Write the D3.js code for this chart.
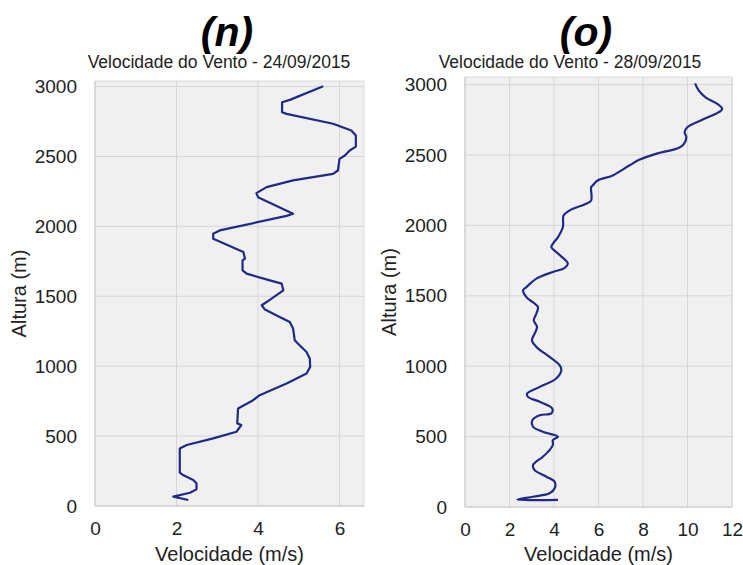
<!DOCTYPE html>
<html><head><meta charset="utf-8">
<script src="https://cdn.jsdelivr.net/npm/d3@7"></script>
<style>body{margin:0;background:#fff}svg{display:block}text{font-family:"Liberation Sans",Arial,sans-serif}</style>
</head><body><svg id="c" width="743" height="565"></svg>
<script>
// Panel (n) 24/09/2015
const nAltura = [43,67,95,119,162,186,221,238,412,436,484,531,579,591,698,757,793,876,948,995,1055,1102,1150,1186,1269,1316,1352,1405,1436,1459,1543,1591,1614,1662,1686,1757,1769,1817,1912,1948,1971,2075,2091,2209,2238,2281,2329,2376,2400,2483,2507,2543,2571,2650,2686,2734,2805,2817,2888,2905,3002];
const nVel    = [2.29,1.92,2.33,2.49,2.49,2.41,2.16,2.08,2.08,2.25,2.90,3.47,3.59,3.49,3.51,3.88,4.04,4.70,5.19,5.28,5.27,5.19,5.02,4.90,4.86,4.78,4.53,4.17,4.09,4.21,4.62,4.58,4.29,3.72,3.62,3.62,3.68,3.64,2.90,2.90,3.06,4.70,4.86,4.00,3.96,4.21,4.86,5.84,5.96,6.00,6.13,6.25,6.40,6.40,6.29,5.84,4.70,4.59,4.59,4.78,5.60];
// Panel (o) 28/09/2015
const oAltura = [50,52,73,97,133,179,215,262,298,357,404,440,475,499,534,570,617,652,665,700,747,782,806,853,913,972,1007,1066,1137,1184,1232,1279,1326,1374,1421,1445,1491,1539,1562,1622,1669,1697,1728,1752,1811,1846,1870,1917,1988,2071,2106,2154,2177,2272,2284,2319,2355,2425,2466,2508,2551,2579,2626,2662,2697,2750,2804,2827,2863,2910,2957,3009];
const oVel    = [4.18,2.35,3.06,3.80,4.03,4.03,3.66,3.13,3.06,3.50,3.80,3.95,3.95,4.18,3.50,3.06,3.03,3.36,3.88,3.92,3.36,2.83,2.79,3.36,4.10,4.33,4.25,3.80,3.21,3.01,3.13,3.24,3.09,3.21,3.28,3.13,2.76,2.61,2.76,3.21,3.95,4.47,4.62,4.52,4.10,3.88,3.95,4.18,4.40,4.43,4.70,5.44,5.67,5.67,5.74,5.96,6.64,7.38,7.83,8.58,9.62,9.84,9.95,9.87,9.99,10.66,11.41,11.56,11.34,10.81,10.51,10.34];

const yTicks = [0,500,1000,1500,2000,2500,3000];
const nXTicks = [0,2,4,6];
const oXTicks = [0,2,4,6,8,10,12];

const svg = d3.select("#c");

function panel(cfg){
  const {x0,x1,y0,y1,xMax,yMax,xTicks,alt,vel,label,title,labelX,titleX,curve} = cfg;
  const x = d3.scaleLinear().domain([0,xMax]).range([x0,x1]);
  const y = d3.scaleLinear().domain([0,yMax]).range([y1,y0]);
  const g = svg.append("g");
  g.append("rect").attr("x",x0).attr("y",y0).attr("width",x1-x0).attr("height",y1-y0)
    .attr("fill","#f0f0f0").attr("stroke","#dcdcdc");
  // grid
  g.append("g").selectAll("line").data(xTicks).join("line")
    .attr("x1",d=>x(d)).attr("x2",d=>x(d)).attr("y1",y0).attr("y2",y1)
    .attr("stroke",d=>d===0?"#c8c8c8":"#d6d6d6").attr("stroke-width",1);
  g.append("g").selectAll("line").data(yTicks).join("line")
    .attr("x1",x0).attr("x2",x1).attr("y1",d=>y(d)).attr("y2",d=>y(d))
    .attr("stroke",d=>d===0?"#c8c8c8":"#d6d6d6").attr("stroke-width",1);
  // axes via d3
  const ax = g.append("g").attr("transform",`translate(0,${y1})`)
    .call(d3.axisBottom(x).tickValues(xTicks).tickSize(0).tickPadding(16).tickFormat(d3.format("d")));
  ax.select(".domain").remove();
  ax.selectAll("text").attr("font-size",19).attr("fill","#222").attr("font-family","Liberation Sans, Arial, sans-serif");
  const ay = g.append("g").attr("transform",`translate(${x0},0)`)
    .call(d3.axisLeft(y).tickValues(yTicks).tickSize(0).tickPadding(18).tickFormat(d3.format("d")));
  ay.select(".domain").remove();
  ay.selectAll("text").attr("font-size",19).attr("fill","#222").attr("font-family","Liberation Sans, Arial, sans-serif");
  // line
  const pts = alt.map((a,i)=>[vel[i],a]);
  g.append("path").datum(pts)
    .attr("fill","none").attr("stroke","#1f2a86").attr("stroke-width",2.2).attr("stroke-linejoin","round")
    .attr("d",d3.line().x(d=>x(d[0])).y(d=>y(d[1])).curve(curve));
  // texts
  g.append("text").attr("x",(x0+x1)/2).attr("y",561).attr("text-anchor","middle")
    .attr("font-size",20).attr("fill","#222").text("Velocidade (m/s)");
  g.append("text").attr("transform",`translate(${x0-69},${(y0+y1)/2}) rotate(-90)`)
    .attr("text-anchor","middle").attr("font-size",20).attr("fill","#222").text("Altura (m)");
  g.append("text").attr("x",titleX).attr("y",68).attr("text-anchor","middle")
    .attr("font-size",17.5).attr("fill","#222").text(title);
  g.append("text").attr("x",labelX).attr("y",46).attr("text-anchor","middle")
    .attr("font-family","DejaVu Sans, Verdana, sans-serif").attr("font-weight","bold").attr("font-style","italic")
    .attr("font-size",41).attr("fill","#000").text(label);
}

panel({x0:95,x1:364,y0:81,y1:506,xMax:6.6,yMax:3040,xTicks:nXTicks,alt:nAltura,vel:nVel,
  label:"(n)",title:"Velocidade do Vento - 24/09/2015",labelX:227,titleX:219,curve:d3.curveLinear});
panel({x0:465,x1:732,y0:77,y1:507,xMax:12,yMax:3054,xTicks:oXTicks,alt:oAltura,vel:oVel,
  label:"(o)",title:"Velocidade do Vento - 28/09/2015",labelX:586,titleX:570,curve:d3.curveCatmullRom});
</script></body></html>
